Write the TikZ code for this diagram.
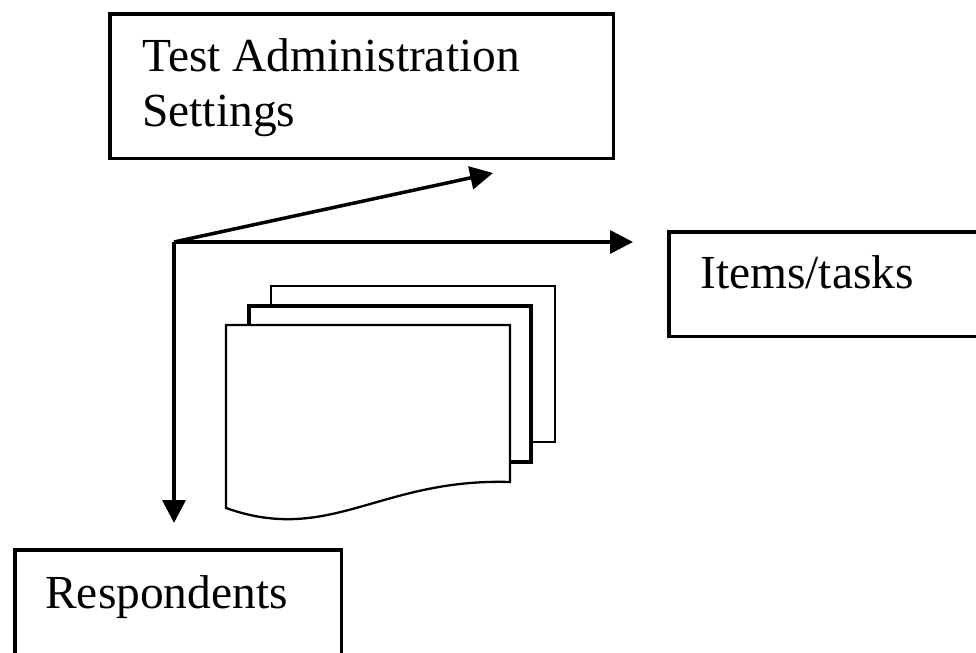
\documentclass[tikz,border=0pt]{standalone}
\usepackage{fontspec}
\setmainfont{Liberation Serif}
\usetikzlibrary{arrows.meta}
\tikzset{
  box/.style={draw,line width=2pt,inner sep=0pt,anchor=north west},
  lbl/.style={inner sep=0pt,align=left,font=\fontsize{27}{31.5}\selectfont},
  arr/.style={line width=2pt,-{Triangle[length=13pt,width=13pt]}},
  page/.style={draw,fill=white,line width=1.3pt}
}
\begin{document}
\begin{tikzpicture}[x=0.02cm,y=-0.02cm]
\clip (0,0) rectangle (976,652);
\node at (108,12) [box,minimum width=10.08cm,minimum height=2.9cm] (admin) {};
\node at (667,230) [box,minimum width=7cm,minimum height=2.1cm] (items) {};
\node at (13,548) [box,minimum width=6.54cm,minimum height=3cm] (resp) {};
\node at (142,38) [lbl,anchor=north west] (admintxt) {Test Administration\\Settings};
\node at (700,288) [lbl,anchor=base west] (itemstxt) {Items/tasks};
\node at (45,608) [lbl,anchor=base west] (resptxt) {Respondents};
% the stack of pages
\draw[page] (271,286) rectangle (555,442);
\draw[page,line width=2pt] (249,306) rectangle (531,462);
\draw[page] (226,325) -- (510,325) -- (510,482)
  .. controls (380,478) and (330,545) .. (226,508) -- cycle;
% arrows
\coordinate (o) at (174,242);
\coordinate (adminend) at (493,173);
\coordinate (itemsend) at (633,242);
\coordinate (respend) at (174,523);
\draw[arr] (o) -- (adminend);
\draw[arr] (o) -- (itemsend);
\draw[arr] (o) -- (respend);
\end{tikzpicture}
\end{document}
